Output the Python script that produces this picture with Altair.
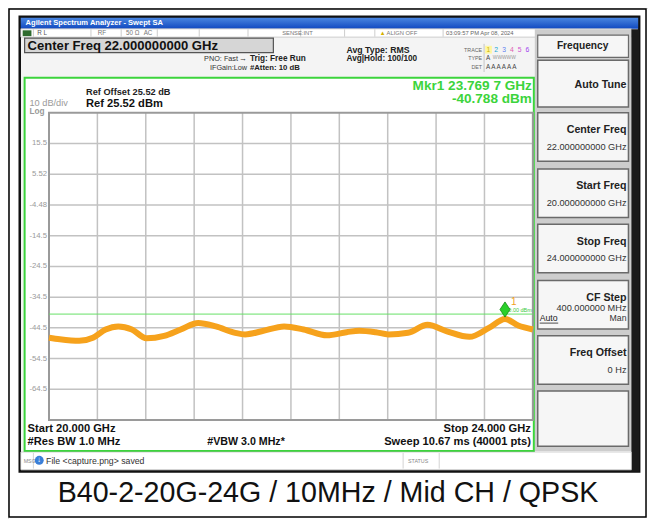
import altair as alt
import pandas as pd

# ---------------- data ----------------
start_ghz = 20.0
stop_ghz = 24.0
ref_level = 25.52
bottom_level = -74.48
grid_freqs = [20.4, 20.8, 21.2, 21.6, 22.0, 22.4, 22.8, 23.2, 23.6]
level_ticks = [15.52, 5.52, -4.48, -14.48, -24.48, -34.48, -44.48, -54.48, -64.48]
tick_labels = ["15.5", "5.52", "-4.48", "-14.5", "-24.5", "-34.5", "-44.5", "-54.5", "-64.5"]
trace_freq = [20.0, 20.089, 20.25, 20.363, 20.468, 20.573, 20.685, 20.806, 20.952, 21.089,
              21.234, 21.379, 21.54, 21.621, 21.758, 21.944, 22.105, 22.298, 22.46, 22.565,
              22.702, 22.806, 22.968, 23.129, 23.29, 23.476, 23.637, 23.77, 23.879, 24.0]
trace_level = [-47.7, -48.2, -48.7, -47.7, -45.0, -44.0, -45.0, -47.9, -47.1, -45.0,
               -42.9, -44.0, -46.1, -46.6, -45.6, -44.0, -45.0, -46.9, -45.9, -45.4,
               -45.9, -46.6, -46.1, -43.5, -45.6, -47.4, -44.5, -41.6, -43.7, -45.0]
display_line = [-40.0]
display_label = ["-40.00 dBm"]
mkr_freq = [23.7697]
mkr_level = [-40.788]
mkr_id = ["1"]
softkey_names = ["Center Freq", "Start Freq", "Stop Freq", "CF Step", "Freq Offset"]
softkey_values = ["22.000000000 GHz", "20.000000000 GHz", "24.000000000 GHz", "400.000000 MHz", "0 Hz"]
caption = "B40-2-20G-24G / 10MHz / Mid CH / QPSK"

# ---------------- layout helpers (reference px -> view px) ----------------
def X(r):
    return 320 + 0.9755 * (r - 328)

def Y(r):
    return 255 + 0.9695 * (r - 263)

FS = 0.97
FONT = "Liberation Sans"
one = pd.DataFrame({"k": [0]})
base = alt.Chart(one)
layers = []

def rect(x1, y1, x2, y2, fill="white", stroke=None, sw=1.0, fill_opacity=1.0):
    kw = dict(fill=fill, fillOpacity=fill_opacity)
    if stroke:
        kw.update(stroke=stroke, strokeWidth=sw)
    else:
        kw.update(strokeWidth=0)
    layers.append(base.mark_rect(**kw).encode(
        x=alt.value(X(x1)), x2=alt.value(X(x2)), y=alt.value(Y(y1)), y2=alt.value(Y(y2))))

def vline(x, y1, y2, color="#aaaaaa", sw=1.0):
    layers.append(base.mark_rule(color=color, strokeWidth=sw).encode(
        x=alt.value(X(x)), y=alt.value(Y(y1)), y2=alt.value(Y(y2))))

def hline(x1, x2, y, color="#aaaaaa", sw=1.0):
    layers.append(base.mark_rule(color=color, strokeWidth=sw).encode(
        x=alt.value(X(x1)), x2=alt.value(X(x2)), y=alt.value(Y(y))))

def text(s, x, y, size=9, color="#000000", weight="normal", align="left", font=FONT):
    layers.append(base.mark_text(text=s, fontSize=size * FS, color=color, fontWeight=weight,
                                 align=align, baseline="middle", font=font).encode(
        x=alt.value(X(x)), y=alt.value(Y(y))))

# ---------------- frame ----------------
rect(1, 1, 654, 525, fill="white", stroke="#000000", sw=1.5)
rect(12, 9, 647, 478, fill="#f4f4f4", stroke="#111111", sw=2.5)

# title bar
layers.append(base.mark_rect(
    fill=alt.Gradient(gradient="linear", x1=0, x2=0, y1=0, y2=1,
                      stops=[alt.GradientStop(color="#4a86e0", offset=0),
                             alt.GradientStop(color="#1048c0", offset=1)])).encode(
    x=alt.value(X(13)), x2=alt.value(X(646)), y=alt.value(Y(10)), y2=alt.value(Y(21.5))))
text("Agilent Spectrum Analyzer - Swept SA", 18, 15.8, size=7.8, color="white", weight="bold")

# status row
rect(13, 21.5, 639, 30, fill="white", stroke="#b0b0b0", sw=0.6)
rect(15, 23, 24, 29, fill="#2f6b2f")
for sx in [26, 85, 116, 153, 196, 246, 300, 345, 376, 446]:
    vline(sx, 22, 29.5, color="#c0c0c0", sw=0.8)
text("R L", 30, 25.8, size=6.5, color="#555555")
text("RF", 92, 25.8, size=6.5, color="#777777")
text("50 \u03a9", 121, 25.8, size=6.5, color="#777777")
text("AC", 139, 25.8, size=6.5, color="#777777")
text("SENSE:INT", 281, 25.8, size=6, color="#777777")
text("\u25b2", 381, 25.8, size=6, color="#d4b000")
text("ALIGN OFF", 388, 25.8, size=6, color="#777777")
text("03:09:57 PM Apr 08, 2024", 449, 25.8, size=6, color="#666666")

# center freq box
rect(17, 31, 272, 46, fill="#d6d6d6", stroke="#555555", sw=1.2)
text("Center Freq 22.000000000 GHz", 20, 39, size=13.5, color="#111111", weight="bold")
text("PNO: Fast", 201, 52.5, size=7.5, color="#333333")
text("\u2192", 237, 52.5, size=8, color="#333333")
text("IFGain:Low", 207, 62, size=7.5, color="#333333")
text("Trig: Free Run", 248, 52.5, size=8.5, color="#222222", weight="bold")
text("#Atten: 10 dB", 248, 62, size=8, color="#222222", weight="bold")
text("Avg Type: RMS", 347, 43, size=9, color="#222222", weight="bold")
text("Avg|Hold: 100/100", 347, 53, size=8.5, color="#222222", weight="bold")

# trace table
vline(488, 37, 66, color="#bbbbbb", sw=0.8)
text("TRACE", 486, 43, size=5.5, color="#666666", align="right")
text("TYPE", 486, 52, size=5.5, color="#666666", align="right")
text("DET", 486, 61, size=5.5, color="#666666", align="right")
rect(489, 39, 496, 47, fill="#fff6a0")
trace_cols = ["#c8b400", "#20a8d0", "#5c7cf0", "#e060b0", "#d050d0", "#a040f0"]
for i, c in enumerate(trace_cols):
    text(str(i + 1), 490.5 + i * 8, 43, size=7, color=c)
text("A", 490, 52, size=6.5, color="#444444")
text("WWWWW", 497, 52, size=5, color="#999999")
text("A A A A A A", 490, 61, size=6.5, color="#444444")

# ---------------- right softkey panel ----------------
rect(540, 22, 639, 457, fill="#cdcdcd")
rect(639, 22, 647, 478, fill="#1a1a1a")
rect(543, 28, 636, 51, fill="#f6f6f6", stroke="#6a6a6a", sw=1.2)
text("Frequency", 589, 39.5, size=10.5, color="#222222", weight="bold", align="center")
rect(543, 54, 636, 102, fill="#f6f6f6", stroke="#6a6a6a", sw=1.5)
text("Auto Tune", 634, 79, size=11, color="#222222", weight="bold", align="right")
box_tops = [108, 166, 223, 281, 338]
for name, val, top in zip(softkey_names, softkey_values, box_tops):
    rect(543, top, 636, top + 50, fill="#f6f6f6", stroke="#6a6a6a", sw=1.5)
    text(name, 634, top + 18, size=11, color="#222222", weight="bold", align="right")
    if name == "CF Step":
        text(val, 634, top + 28, size=9.5, color="#333333", align="right")
        text("Auto", 545, top + 39, size=9, color="#222222")
        hline(545, 564, top + 44, color="#222222", sw=0.8)
        text("Man", 634, top + 39, size=9, color="#333333", align="right")
    else:
        text(val, 634, top + 35, size=9.5, color="#333333", align="right")
rect(543, 395, 636, 452, fill="#f6f6f6", stroke="#6a6a6a", sw=1.5)

# ---------------- plot frame ----------------
rect(17, 72, 539, 457, fill="white", stroke="#3cd43c", sw=2)
text("10 dB/div", 22, 98, size=9.5, color="#9a9a9a")
text("Log", 22, 107.5, size=8.5, color="#9a9a9a", weight="bold")
text("Ref Offset 25.52 dB", 80, 87, size=9.5, color="#222222", weight="bold")
text("Ref 25.52 dBm", 80, 99.5, size=11.5, color="#111111", weight="bold")
text("Mkr1 23.769 7 GHz", 537, 80, size=14, color="#3cd43c", weight="bold", align="right")
text("-40.788 dBm", 537, 94, size=14, color="#3cd43c", weight="bold", align="right")

xs = alt.Scale(domain=[start_ghz, stop_ghz], range=[X(42), X(538)], nice=False, zero=False)
ys = alt.Scale(domain=[bottom_level, ref_level], range=[Y(425), Y(108)], nice=False, zero=False)

vgrid = pd.DataFrame({"f": grid_freqs})
layers.append(alt.Chart(vgrid).mark_rule(color="#c2c2c2", strokeWidth=1.5).encode(
    x=alt.X("f:Q", scale=xs, axis=None), y=alt.value(Y(108)), y2=alt.value(Y(425))))
hgrid = pd.DataFrame({"lv": level_ticks, "lab": tick_labels})
layers.append(alt.Chart(hgrid).mark_rule(color="#c2c2c2", strokeWidth=1.5).encode(
    y=alt.Y("lv:Q", scale=ys, axis=None), x=alt.value(X(42)), x2=alt.value(X(538))))
layers.append(alt.Chart(hgrid).mark_text(align="right", baseline="middle", fontSize=8 * FS,
                                         color="#9a9a9a", font=FONT).encode(
    y=alt.Y("lv:Q", scale=ys, axis=None), x=alt.value(X(40)), text="lab:N"))
rect(42, 108, 538, 425, fill="white", fill_opacity=0, stroke="#9a9a9a", sw=2)

dl = pd.DataFrame({"lv": display_line, "lab": display_label})
layers.append(alt.Chart(dl).mark_rule(color="#66e066", strokeWidth=1).encode(
    y=alt.Y("lv:Q", scale=ys, axis=None), x=alt.value(X(42)), x2=alt.value(X(538))))

tr = pd.DataFrame({"f": trace_freq, "lv": trace_level})
layers.append(alt.Chart(tr).mark_line(color="#f6a21c", strokeWidth=6, interpolate="monotone",
                                      strokeJoin="round").encode(
    x=alt.X("f:Q", scale=xs, axis=None), y=alt.Y("lv:Q", scale=ys, axis=None)))

layers.append(alt.Chart(dl).mark_text(align="right", baseline="middle", fontSize=5.5,
                                      color="#3cc83c", font=FONT, dy=-4).encode(
    y=alt.Y("lv:Q", scale=ys, axis=None), x=alt.value(X(537)), text="lab:N"))

mk = pd.DataFrame({"f": mkr_freq, "lv": mkr_level, "id": mkr_id})
layers.append(alt.Chart(mk).mark_point(shape="M0,-1L0.66,0L0,1L-0.66,0Z", size=230, filled=True,
                                       fill="#2ad02a", stroke="#128a12", strokeWidth=0.8,
                                       opacity=1, yOffset=-7).encode(
    x=alt.X("f:Q", scale=xs, axis=None), y=alt.Y("lv:Q", scale=ys, axis=None)))
layers.append(alt.Chart(mk).mark_text(align="left", baseline="middle", fontSize=10,
                                      color="#f0a020", font=FONT, dx=6, dy=-15).encode(
    x=alt.X("f:Q", scale=xs, axis=None), y=alt.Y("lv:Q", scale=ys, axis=None), text="id:N"))

# bottom annotation
text("Start 20.000 GHz", 20, 434, size=11.5, color="#111111", weight="bold")
text("Stop 24.000 GHz", 536, 434, size=11.5, color="#111111", weight="bold", align="right")
text("#Res BW 1.0 MHz", 20, 448, size=11.5, color="#111111", weight="bold")
text("#VBW 3.0 MHz*", 244, 448, size=11, color="#111111", weight="bold", align="center")
text("Sweep  10.67 ms (40001 pts)", 536, 448, size=11.5, color="#111111", weight="bold", align="right")

# message row
rect(13, 458, 639, 476, fill="white", stroke="#b8b8b8", sw=0.6)
vline(26, 459, 475, color="#c8c8c8", sw=0.8)
vline(405, 459, 475, color="#c8c8c8", sw=0.8)
vline(442, 459, 475, color="#c8c8c8", sw=0.8)
text("MSG", 16, 467, size=5.5, color="#888888")
layers.append(base.mark_point(shape="circle", size=80, filled=True, fill="#3a7fd8",
                              opacity=1, strokeWidth=0).encode(
    x=alt.value(X(32)), y=alt.value(Y(466.5))))
text("\u2193", 32, 466.5, size=8, color="white", weight="bold", align="center")
text("File <capture.png> saved", 39, 467, size=9, color="#333333")
text("STATUS", 410, 467, size=5.5, color="#888888")

# caption
text(caption, 328, 500, size=29.5, color="#111111", align="center")

chart = alt.layer(*layers).properties(
    width=640, height=511,
    autosize=alt.AutoSizeParams(type="none"),
    padding=0,
).configure_view(strokeWidth=0).configure(background="white")

chart.save("out.html", embed_options={"renderer": "svg", "actions": False})
